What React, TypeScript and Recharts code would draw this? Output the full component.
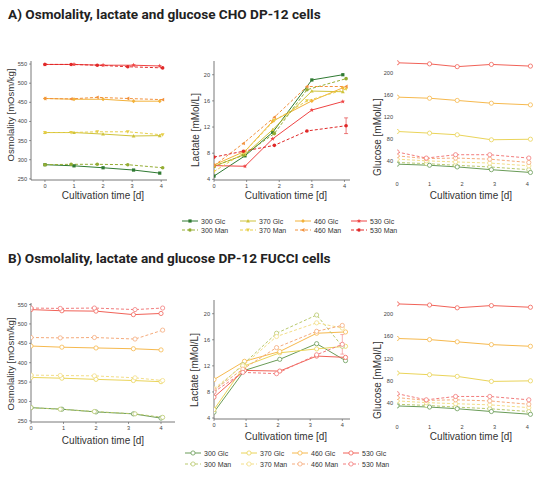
import { LineChart, Line, XAxis, YAxis, ErrorBar } from "recharts";

const FONT = '"Liberation Sans", Arial, sans-serif';
const TITLE_FONT = 'Roboto, "Liberation Sans", Arial, sans-serif';

const groups = ["300", "370", "460", "530"];
const dayTicks = [0, 1, 2, 3, 4];
const osmTicks = [250, 300, 350, 400, 450, 500, 550];
const lacTicks = [4, 8, 12, 16, 20];
const glcTicks = [40, 80, 120, 160, 200];

// A) CHO DP-12 - osmolality [mOsm/kg], rows = 300/370/460/530
const osmChoDaysGlc = [0, 1, 2, 3.05, 3.95];
const osmChoDaysMan = [0, 0.9, 1.8, 2.85, 4.05];
const osmChoGlc = [
  [287, 284, 279, 273, 265],
  [371, 371, 367, 362, 363],
  [460, 458, 458, 453, 453],
  [549, 549, 547, 547, 545],
];
const osmChoMan = [
  [287, 288, 288, 287, 279],
  [371, 371, 373, 373, 365],
  [460, 459, 463, 460, 457],
  [549, 549, 547, 543, 540],
];

// A) lactate [mMol/L]
const lacChoDaysGlc = [0, 0.95, 1.8, 3.0, 3.95];
const lacChoDaysMan = [0, 0.9, 1.85, 2.85, 4.05];
const lacChoGlc = [
  [4.5, 7.6, 11.2, 19.2, 20.0],
  [6.0, 7.8, 11.6, 17.5, 17.4],
  [6.2, 8.3, 12.9, 16.0, 18.0],
  [6.1, 6.0, 10.2, 14.6, 15.9],
];
const lacChoMan = [
  [6.0, 7.7, 11.0, 17.7, 19.4],
  [5.2, 8.0, 13.0, 16.0, 17.8],
  [6.1, 9.5, 13.5, 18.2, 18.2],
  [7.4, 8.3, 9.2, 11.4, 12.2],
];
const lacCho530ManErr = [null, null, null, null, 1.2];

// glucose [mMol/L] (same curves in both parts of the figure)
const glcDaysGlc = [0, 1.0, 1.85, 2.9, 4.1];
const glcDaysMan = [0, 0.9, 1.8, 2.85, 4.05];
const glcGlc = [
  [35, 33, 30, 25, 20],
  [94, 91, 88, 79, 80],
  [156, 154, 150, 145, 142],
  [218, 216, 211, 215, 212],
];
const glcMan = [
  [38, 36, 33, 30, 25],
  [44, 41, 39, 37, 32],
  [50, 45, 46, 44, 38],
  [57, 46, 52, 52, 46],
];

// B) DP-12 FUCCI - osmolality
const osmFucDaysGlc = [0, 0.95, 2.0, 3.15, 4.0];
const osmFucDaysMan = [0, 0.9, 1.95, 3.2, 4.05];
const osmFucGlc = [
  [284, 280, 273, 268, 257],
  [362, 360, 357, 354, 351],
  [443, 440, 438, 436, 433],
  [537, 534, 533, 524, 527],
];
const osmFucMan = [
  [284, 280, 274, 268, 259],
  [368, 367, 366, 361, 354],
  [465, 464, 465, 461, 484],
  [541, 540, 541, 537, 541],
];

// B) lactate
const lacFucDaysGlc = [0, 0.95, 2.05, 3.2, 4.1];
const lacFucDaysMan = [0, 0.9, 1.95, 3.2, 4.0];
const lacFucGlc = [
  [4.9, 11.3, 13.0, 15.4, 12.8],
  [5.3, 12.0, 14.0, 14.6, 15.0],
  [9.9, 12.7, 14.2, 17.0, 17.2],
  [7.2, 11.3, 11.2, 13.5, 13.3],
];
const lacFucMan = [
  [8.2, 12.2, 17.0, 19.8, 15.0],
  [8.5, 12.0, 16.5, 18.6, 17.8],
  [8.3, 11.5, 14.8, 17.3, 18.2],
  [8.0, 11.0, 10.8, 13.7, 15.3],
];
const lacFuc530ManErr = [null, null, null, null, 1.5];

const colorsA = {
  glc: ["#2f7a32", "#cfc33c", "#f3b23a", "#ef4444"],
  man: ["#94ad33", "#e7cf4a", "#f2913c", "#e02828"],
};
const colorsB = {
  glc: ["#6a9c58", "#ead45a", "#f6b94e", "#f16258"],
  man: ["#b9c96e", "#f3de88", "#f5ab7c", "#f27c7c"],
};
const shapesA = {
  glc: ["square", "triUp", "diamond", "star"],
  man: ["circle", "triDown", "triLeft", "circle"],
};

function Marker({ cx, cy, shape, color, open }) {
  if (cx == null || cy == null) return null;
  if (open) {
    return <circle cx={cx} cy={cy} r={2.1} fill="#fff" stroke={color} strokeWidth={0.8} />;
  }
  const s = 1.9;
  if (shape === "square") return <rect x={cx - s * 0.85} y={cy - s * 0.85} width={s * 1.7} height={s * 1.7} fill={color} />;
  if (shape === "circle") return <circle cx={cx} cy={cy} r={s * 0.95} fill={color} />;
  let d = "";
  if (shape === "triUp") d = `M${cx},${cy - s}L${cx + s},${cy + s * 0.8}L${cx - s},${cy + s * 0.8}Z`;
  if (shape === "triDown") d = `M${cx},${cy + s}L${cx + s},${cy - s * 0.8}L${cx - s},${cy - s * 0.8}Z`;
  if (shape === "triLeft") d = `M${cx - s},${cy}L${cx + s * 0.8},${cy - s}L${cx + s * 0.8},${cy + s}Z`;
  if (shape === "diamond") d = `M${cx},${cy - s * 1.1}L${cx + s},${cy}L${cx},${cy + s * 1.1}L${cx - s},${cy}Z`;
  if (shape === "star") {
    const pts = [];
    for (let i = 0; i < 10; i++) {
      const r = i % 2 === 0 ? s * 1.25 : s * 0.55;
      const a = -Math.PI / 2 + (i * Math.PI) / 5;
      pts.push(`${cx + r * Math.cos(a)},${cy + r * Math.sin(a)}`);
    }
    d = "M" + pts.join("L") + "Z";
  }
  return <path d={d} fill={color} />;
}

function series(days, rows, colors, kind, part, errs) {
  return rows.map((vals, i) => ({
    key: `${groups[i]}-${kind}`,
    color: colors[kind][i],
    dashed: kind === "man",
    shape: part === "A" ? shapesA[kind][i] : "circle",
    open: part === "B",
    data: days.map((x, j) => ({ x, y: vals[j], e: errs && i === 3 ? errs[j] : null })),
    hasErr: !!errs && i === 3,
  }));
}

function Panel({ box, xDomain, yDomain, yTicks, lines, noAxes }) {
  const YW = 24, XH = 16, MT = 4, MR = 8;
  const w = box.w + YW + MR;
  const h = box.h + MT + XH;
  const tick = { fontSize: 5.6, fill: "#444", fontFamily: FONT };
  return (
    <div style={{ position: "absolute", left: box.x - YW, top: box.y - MT }}>
      <LineChart width={w} height={h} margin={{ top: MT, right: MR, bottom: 0, left: 0 }}>
        <XAxis
          type="number"
          dataKey="x"
          domain={xDomain}
          allowDataOverflow
          ticks={dayTicks}
          height={XH}
          tick={tick}
          tickSize={2}
          tickMargin={2}
          axisLine={noAxes ? false : { stroke: "#555", strokeWidth: 0.8 }}
          tickLine={noAxes ? false : { stroke: "#555", strokeWidth: 0.6 }}
        />
        <YAxis
          type="number"
          domain={yDomain}
          allowDataOverflow
          ticks={yTicks}
          width={YW}
          tick={tick}
          tickSize={2}
          tickMargin={2}
          axisLine={noAxes ? false : { stroke: "#555", strokeWidth: 0.8 }}
          tickLine={noAxes ? false : { stroke: "#555", strokeWidth: 0.6 }}
        />
        {lines.map((s) => (
          <Line
            key={s.key}
            data={s.data}
            dataKey="y"
            type="linear"
            stroke={s.color}
            strokeWidth={1}
            strokeDasharray={s.dashed ? "3 2" : undefined}
            isAnimationActive={false}
            dot={(p) => <Marker key={`${s.key}-${p.index}`} cx={p.cx} cy={p.cy} shape={s.shape} color={s.color} open={s.open} />}
            activeDot={false}
          >
            {s.hasErr && <ErrorBar dataKey="e" direction="y" width={2} stroke={s.color} strokeWidth={0.6} />}
          </Line>
        ))}
      </LineChart>
    </div>
  );
}

function Text({ x, y, size, rotate, children }) {
  return (
    <div
      style={{
        position: "absolute",
        left: x,
        top: y,
        transform: `translate(-50%, -50%)${rotate ? " rotate(-90deg)" : ""}`,
        whiteSpace: "nowrap",
        fontSize: size,
        fontFamily: FONT,
        color: "#333",
        lineHeight: 1,
      }}
    >
      {children}
    </div>
  );
}

function LegendBlock({ top, rowGap, textX, colors, part }) {
  const kinds = ["glc", "man"];
  return (
    <>
      {kinds.map((kind, r) =>
        groups.map((g, i) => {
          const color = colors[kind][i];
          const y = top + r * rowGap;
          const x = textX[i];
          return (
            <div key={`${kind}-${g}`}>
              <svg style={{ position: "absolute", left: x - 19, top: y - 4 }} width={16} height={8}>
                <line x1={0} y1={4} x2={16} y2={4} stroke={color} strokeWidth={1} strokeDasharray={kind === "man" ? "3 2" : undefined} />
                <Marker cx={8} cy={4} shape={part === "A" ? shapesA[kind][i] : "circle"} color={color} open={part === "B"} />
              </svg>
              <div
                style={{
                  position: "absolute",
                  left: x,
                  top: y,
                  transform: "translateY(-50%)",
                  fontSize: 7,
                  fontFamily: FONT,
                  color: "#333",
                  whiteSpace: "nowrap",
                  lineHeight: 1,
                }}
              >
                {g} {kind === "glc" ? "Glc" : "Man"}
              </div>
            </div>
          );
        })
      )}
    </>
  );
}

export default function App() {
  const osmA = [
    ...series(osmChoDaysGlc, osmChoGlc, colorsA, "glc", "A"),
    ...series(osmChoDaysMan, osmChoMan, colorsA, "man", "A"),
  ];
  const lacA = [
    ...series(lacChoDaysGlc, lacChoGlc, colorsA, "glc", "A"),
    ...series(lacChoDaysMan, lacChoMan, colorsA, "man", "A", lacCho530ManErr),
  ];
  // glucose panels are drawn with the lighter, open-marker style in both parts
  const glcA = [
    ...series(glcDaysMan, glcMan, colorsB, "man", "B"),
    ...series(glcDaysGlc, glcGlc, colorsB, "glc", "B"),
  ];
  const osmB = [
    ...series(osmFucDaysGlc, osmFucGlc, colorsB, "glc", "B"),
    ...series(osmFucDaysMan, osmFucMan, colorsB, "man", "B"),
  ];
  const lacB = [
    ...series(lacFucDaysGlc, lacFucGlc, colorsB, "glc", "B"),
    ...series(lacFucDaysMan, lacFucMan, colorsB, "man", "B", lacFuc530ManErr),
  ];
  const glcB = [
    ...series(glcDaysMan, glcMan, colorsB, "man", "B"),
    ...series(glcDaysGlc, glcGlc, colorsB, "glc", "B"),
  ];

  const titleStyle = {
    position: "absolute" as const,
    left: 8,
    fontFamily: TITLE_FONT,
    fontWeight: 700,
    fontSize: 13.6,
    color: "#222",
    whiteSpace: "nowrap" as const,
  };

  return (
    <div style={{ position: "absolute", left: 0, top: 0, width: 550, height: 482, background: "#fff", overflow: "hidden" }}>
      <div style={{ ...titleStyle, top: 6 }}>A) Osmolality, lactate and glucose CHO DP-12 cells</div>
      <div style={{ ...titleStyle, top: 250 }}>B) Osmolality, lactate and glucose DP-12 FUCCI  cells</div>

      <Panel box={{ x: 31, y: 61, w: 136, h: 119 }} xDomain={[-0.48, 4.2]} yDomain={[247, 558]} yTicks={osmTicks} lines={osmA} />
      <Panel box={{ x: 214, y: 61, w: 136, h: 119 }} xDomain={[0, 4.17]} yDomain={[3.9, 22.1]} yTicks={lacTicks} lines={lacA} />
      <Panel box={{ x: 397, y: 60, w: 138, h: 118 }} xDomain={[0, 4.24]} yDomain={[10, 223]} yTicks={glcTicks} lines={glcA} noAxes />

      <Panel box={{ x: 31, y: 303, w: 144, h: 119 }} xDomain={[0, 4.43]} yDomain={[247, 554]} yTicks={osmTicks} lines={osmB} />
      <Panel box={{ x: 214, y: 300, w: 136, h: 119 }} xDomain={[0, 4.24]} yDomain={[3.85, 22.1]} yTicks={lacTicks} lines={lacB} />
      <Panel box={{ x: 397, y: 300, w: 138, h: 121 }} xDomain={[0, 4.24]} yDomain={[8, 225]} yTicks={glcTicks} lines={glcB} noAxes />

      <Text x={103} y={196} size={10}>Cultivation time [d]</Text>
      <Text x={286} y={196} size={10}>Cultivation time [d]</Text>
      <Text x={471} y={196} size={10}>Cultivation time [d]</Text>
      <Text x={103} y={441} size={10}>Cultivation time [d]</Text>
      <Text x={286} y={437} size={10}>Cultivation time [d]</Text>
      <Text x={471} y={437} size={10}>Cultivation time [d]</Text>

      <Text x={11} y={115} size={9.5} rotate>Osmolality [mOsm/kg]</Text>
      <Text x={196} y={130} size={10} rotate>Lactate [mMol/L]</Text>
      <Text x={378} y={137} size={10} rotate>Glucose [mMol/L]</Text>
      <Text x={11} y={364} size={9.5} rotate>Osmolality [mOsm/kg]</Text>
      <Text x={195} y={370} size={10} rotate>Lactate [mMol/L]</Text>
      <Text x={378} y={380} size={10} rotate>Glucose [mMol/L]</Text>

      <LegendBlock top={221} rowGap={8.6} textX={[201, 259, 314, 370]} colors={colorsA} part="A" />
      <LegendBlock top={453} rowGap={10.7} textX={[204, 260, 311, 362]} colors={colorsB} part="B" />
    </div>
  );
}
